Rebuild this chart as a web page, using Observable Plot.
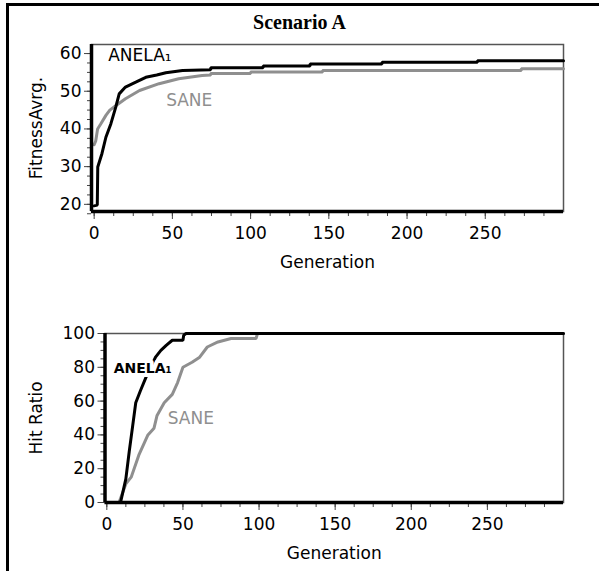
<!DOCTYPE html>
<html><head><meta charset="utf-8">
<script src="https://cdn.jsdelivr.net/npm/d3@7"></script>
<script src="https://cdn.jsdelivr.net/npm/@observablehq/plot@0.6"></script>
<style>
body{margin:0;background:#fff;}
#wrap{position:relative;width:599px;height:571px;overflow:hidden;background:#fff;}
#bt{position:absolute;left:6px;top:3px;width:593px;height:3px;background:#000}
#bl{position:absolute;left:6px;top:3px;width:3px;height:568px;background:#000}
#title{position:absolute;left:0;width:599px;top:11px;text-align:center;font:bold 20px "Liberation Serif",serif;color:#000}
#c1{position:absolute;left:0;top:0}
#c2{position:absolute;left:0;top:290px}
</style></head><body>
<div id="wrap"><div id="bt"></div><div id="bl"></div><div id="title">Scenario A</div><div id="c1"></div><div id="c2"></div></div>
<script>
// ---- data ----
const genTicks = [0, 50, 100, 150, 200, 250];
const genMinor = d3.range(0, 300, 12.5);

// Top chart: average fitness
const fitAnelaGen = [0, 2, 2.3, 5, 7.5, 10.7, 13.8, 16, 20, 26.6, 33, 40, 45.8, 56.5, 74.5, 74.5, 108, 108, 138, 138, 184, 184, 245, 245, 300];
const fitAnelaVal = [19.6, 19.8, 29.9, 33.5, 37.8, 41.4, 45.8, 49.3, 51.1, 52.4, 53.7, 54.3, 54.9, 55.5, 55.7, 56.2, 56.2, 56.7, 56.7, 57.2, 57.2, 57.7, 57.7, 58.1, 58.1];
const fitSaneGen = [0, 1, 2.2, 4, 7.5, 10, 14, 20, 29, 41.5, 54, 69, 74.5, 74.5, 100, 100, 146, 146, 273, 273, 300];
const fitSaneVal = [35.8, 36.8, 40, 41.2, 43.6, 45, 46.2, 48, 50.2, 52, 53.3, 54.2, 54.3, 54.7, 54.7, 55.1, 55.1, 55.5, 55.5, 55.95, 55.95];
const fitTicks = [20, 30, 40, 50, 60];
const fitMinor = d3.range(17.5, 62.5, 2.5);

// Bottom chart: hit ratio
const hitAnelaGen = [9, 12.5, 14.7, 17, 19, 22, 25.7, 32, 35.5, 39, 43, 50, 50.5, 52, 300];
const hitAnelaVal = [0, 14, 30, 45.5, 59, 66, 74, 86, 90, 93, 96, 96, 99, 100, 100];
const hitSaneGen = [8, 12.5, 16, 21, 27, 31, 33, 37.7, 43, 46.5, 50, 56, 61, 66, 73, 81.6, 98, 99, 300];
const hitSaneVal = [0, 11, 15, 28, 40, 44, 51.5, 59, 64, 71, 80, 83, 86, 92, 95, 97, 97, 100, 100];
const hitTicks = [0, 20, 40, 60, 80, 100];
const hitMinor = d3.range(0, 105, 5);

const seriesNames = ["SANE", "ANELA₁"];
const seriesColors = ["#8f8f8f", "#000000"];

const zip = (g, v) => g.map((x, i) => ({g: x, v: v[i]}));

function chart(o) {
  const font = "'DejaVu Sans', sans-serif";
  return Plot.plot({
    width: 599,
    height: o.height,
    marginLeft: o.ml, marginRight: 36, marginTop: o.mt, marginBottom: o.mb,
    style: {fontFamily: font, fontSize: "17px", color: "#000", background: "transparent"},
    x: {domain: o.xDomain},
    y: {domain: o.yDomain},
    marks: [
      Plot.frame({stroke: "#555", strokeWidth: 1.5}),
      Plot.axisX({ticks: genMinor, tickSize: 5, stroke: "#444", text: null, label: null}),
      Plot.axisX({ticks: genTicks, tickSize: 8, tickPadding: 7, stroke: "#444", fontSize: 17, label: null}),
      Plot.axisY({ticks: o.yMinor, tickSize: 4, stroke: "#444", text: null, label: null}),
      Plot.axisY({ticks: o.yTicks, tickSize: 7, tickPadding: 3, stroke: "#444", fontSize: 17, label: null}),
      Plot.line(o.sane, {x: "g", y: "v", stroke: seriesColors[0], strokeWidth: 3, strokeLinejoin: "miter"}),
      Plot.line(o.anela, {x: "g", y: "v", stroke: seriesColors[1], strokeWidth: 3, strokeLinejoin: "miter"}),
      Plot.ruleY([o.yDomain[0]], {stroke: "#000", strokeWidth: 3.5}),
      Plot.ruleX([o.xDomain[0]], {stroke: "#000", strokeWidth: 3.5}),
      Plot.text([o.labels[1]], {x: d => d.g, y: d => d.v, text: d => d.t, textAnchor: "start", fill: seriesColors[1], fontSize: o.afs, fontWeight: o.aw, stroke: o.halo ? "white" : null, strokeWidth: 8}),
      Plot.text([o.labels[0]], {x: d => d.g, y: d => d.v, text: d => d.t, textAnchor: "start", fill: seriesColors[0], fontSize: 17}),
      Plot.text(["Generation"], {frameAnchor: "bottom", dy: 56, text: d => d, fontSize: 17, textAnchor: "middle"}),
      Plot.text([o.ylabel], {frameAnchor: "left", dx: -o.yLabOff, rotate: -90, text: d => d, fontSize: 17, textAnchor: "middle"})
    ]
  });
}

document.getElementById("c1").appendChild(chart({
  height: 290, ml: 91, mt: 44, mb: 79,
  xDomain: [-1.7, 300], yDomain: [18.1, 62.4],
  yTicks: fitTicks, yMinor: fitMinor,
  anela: zip(fitAnelaGen, fitAnelaVal), sane: zip(fitSaneGen, fitSaneVal),
  labels: [{g: 46, v: 47.6, t: seriesNames[0]}, {g: 9, v: 59.6, t: seriesNames[1]}],
  afs: 17, aw: "normal", halo: false,
  ylabel: "FitnessAvrg.", yLabOff: 55
}));

document.getElementById("c2").appendChild(chart({
  height: 281, ml: 104.5, mt: 43, mb: 69,
  xDomain: [-1.2, 300], yDomain: [0, 100],
  yTicks: hitTicks, yMinor: hitMinor,
  anela: zip(hitAnelaGen, hitAnelaVal), sane: zip(hitSaneGen, hitSaneVal),
  labels: [{g: 40, v: 49.7, t: seriesNames[0]}, {g: 4.5, v: 79.3, t: seriesNames[1]}],
  afs: 14, aw: "bold", halo: true,
  ylabel: "Hit Ratio", yLabOff: 68
}));
</script>
</body></html>
